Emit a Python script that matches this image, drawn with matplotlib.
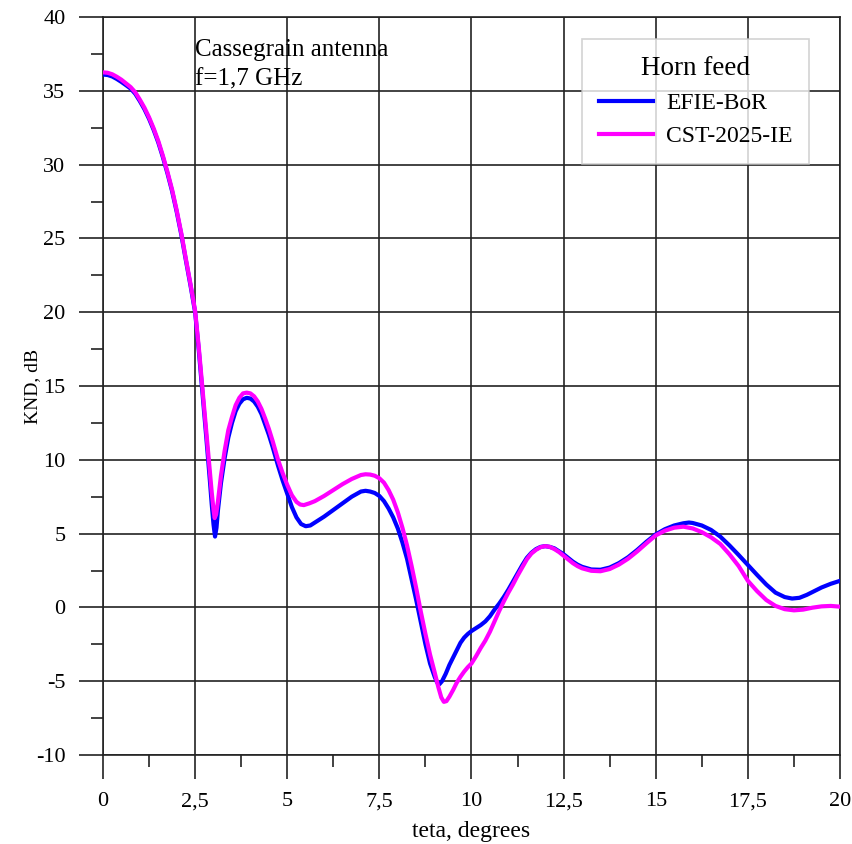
import numpy as np
import matplotlib.pyplot as plt
from matplotlib.ticker import MultipleLocator

# directivity pattern
theta_efie = [0, 0.125, 0.25, 0.375, 0.5, 0.625, 0.75, 0.875, 1.0, 1.125, 1.25, 1.375, 1.5,
              1.625, 1.75, 1.875, 2.0, 2.125, 2.25, 2.375, 2.5, 2.6, 2.7, 2.8, 2.9, 2.95, 3.0,
              3.04, 3.08, 3.12, 3.2, 3.3, 3.4, 3.5, 3.6, 3.7, 3.8, 3.9, 4.0, 4.1, 4.2, 4.3,
              4.4, 4.5, 4.6, 4.75, 4.875, 5.0, 5.125, 5.25, 5.375, 5.5, 5.625, 5.75, 5.875,
              6.0, 6.25, 6.5, 6.75, 7.0, 7.125, 7.25, 7.375, 7.5, 7.625, 7.75, 7.875, 8.0,
              8.125, 8.25, 8.375, 8.5, 8.625, 8.75, 8.875, 9.0, 9.07, 9.13, 9.2, 9.3, 9.4,
              9.5, 9.6, 9.7, 9.8, 9.9, 10.0, 10.125, 10.25, 10.375, 10.5, 10.625, 10.75,
              10.875, 11.0, 11.125, 11.25, 11.375, 11.5, 11.625, 11.75, 11.875, 12.0, 12.125,
              12.25, 12.375, 12.5, 12.625, 12.75, 12.875, 13.0, 13.25, 13.5, 13.75, 14.0,
              14.25, 14.5, 14.75, 15.0, 15.25, 15.5, 15.75, 15.9, 16.0, 16.25, 16.5, 16.75,
              17.0, 17.25, 17.5, 17.75, 18.0, 18.25, 18.5, 18.7, 18.9, 19.1, 19.3, 19.5,
              19.75, 20.0]
knd_efie = [36.1, 36.07, 35.97, 35.8, 35.6, 35.38, 35.15, 34.8, 34.3, 33.75, 33.1, 32.35, 31.5,
            30.5, 29.4, 28.2, 26.8, 25.25, 23.5, 21.8, 20.0, 17.4, 14.5, 11.6, 8.6, 7.0, 5.6,
            4.8, 5.4, 6.6, 8.4, 10.1, 11.5, 12.5, 13.3, 13.8, 14.1, 14.2, 14.15, 13.95, 13.6, 13.1,
            12.4, 11.7, 10.9, 9.6, 8.6, 7.7, 6.8, 6.1, 5.65, 5.5, 5.55, 5.75, 5.95,
            6.15, 6.6, 7.05, 7.5, 7.85, 7.9, 7.85, 7.75, 7.55, 7.2, 6.7, 6.1, 5.35,
            4.4, 3.3, 1.9, 0.5, -1.0, -2.5, -3.8, -4.7, -5.1, -5.2, -5.0, -4.5, -3.9,
            -3.4, -2.9, -2.4, -2.05, -1.8, -1.6, -1.4, -1.2, -0.95, -0.6, -0.15, 0.25,
            0.7, 1.2, 1.75, 2.3, 2.85, 3.35, 3.7, 3.95, 4.1, 4.15, 4.1,
            4.0, 3.8, 3.6, 3.35, 3.1, 2.9, 2.75, 2.57, 2.55, 2.7, 3.0,
            3.4, 3.9, 4.45, 4.95, 5.3, 5.55, 5.7, 5.75, 5.72, 5.55, 5.25, 4.8,
            4.2, 3.55, 2.87, 2.2, 1.55, 1.0, 0.7, 0.6, 0.65, 0.85, 1.1, 1.35,
            1.6, 1.8]

theta_cst = [0, 0.125, 0.25, 0.375, 0.5, 0.625, 0.75, 0.875, 1.0, 1.125, 1.25, 1.375, 1.5,
             1.625, 1.75, 1.875, 2.0, 2.125, 2.25, 2.375, 2.5, 2.6, 2.7, 2.8, 2.9, 2.95, 3.0,
             3.03, 3.07, 3.12, 3.2, 3.3, 3.4, 3.5, 3.6, 3.7, 3.8, 3.9, 4.0, 4.1, 4.2, 4.3,
             4.4, 4.5, 4.6, 4.75, 4.875, 5.0, 5.125, 5.25, 5.35, 5.45, 5.6, 5.75, 6.0,
             6.25, 6.5, 6.75, 7.0, 7.125, 7.25, 7.375, 7.5, 7.625, 7.75, 7.875, 8.0,
             8.125, 8.25, 8.375, 8.5, 8.625, 8.75, 8.875, 9.0, 9.1, 9.18, 9.25, 9.32, 9.4,
             9.5, 9.6, 9.7, 9.8, 9.9, 10.0, 10.125, 10.25, 10.375, 10.5, 10.625, 10.75,
             10.875, 11.0, 11.125, 11.25, 11.375, 11.5, 11.625, 11.75, 11.875, 12.0, 12.125,
             12.25, 12.375, 12.5, 12.625, 12.75, 12.875, 13.0, 13.25, 13.5, 13.75, 14.0,
             14.25, 14.5, 14.75, 15.0, 15.25, 15.5, 15.75, 16.0, 16.25, 16.5, 16.75,
             17.0, 17.25, 17.5, 17.75, 18.0, 18.25, 18.5, 18.75, 19.0, 19.25, 19.5,
             19.75, 20.0]
knd_cst = [36.25, 36.22, 36.12, 35.95, 35.75, 35.5, 35.25, 34.9, 34.4, 33.85, 33.2, 32.45, 31.6,
           30.6, 29.5, 28.3, 26.9, 25.35, 23.6, 21.9, 20.1, 17.6, 14.8, 12.0, 9.2, 7.8, 6.6,
           6.05, 6.3, 7.2, 8.9, 10.6, 12.0, 12.9, 13.7, 14.2, 14.5, 14.55, 14.5, 14.3, 13.95, 13.45,
           12.8, 12.1, 11.3, 10.0, 9.1, 8.3, 7.6, 7.15, 6.97, 6.93, 7.05, 7.2, 7.55,
           7.95, 8.35, 8.7, 8.97, 9.02, 9.0, 8.92, 8.75, 8.45, 7.95, 7.3, 6.45,
           5.4, 4.2, 2.8, 1.3, -0.3, -1.8, -3.2, -4.4, -5.4, -6.1, -6.4, -6.35, -6.05,
           -5.6, -5.1, -4.7, -4.35, -4.05, -3.8, -3.3, -2.75, -2.25, -1.65, -0.95, -0.25,
           0.4, 1.0, 1.55, 2.15, 2.7, 3.25, 3.65, 3.9, 4.08, 4.15, 4.1,
           3.95, 3.75, 3.5, 3.25, 3.0, 2.8, 2.65, 2.48, 2.45, 2.6, 2.9,
           3.3, 3.8, 4.35, 4.88, 5.2, 5.4, 5.47, 5.35, 5.1, 4.75, 4.3,
           3.6, 2.8, 1.8, 1.1, 0.5, 0.1, -0.12, -0.2, -0.15, -0.02, 0.07,
           0.1, 0.05]

x_ticks = [0, 2.5, 5, 7.5, 10, 12.5, 15, 17.5, 20]
y_ticks = [-10, -5, 0, 5, 10, 15, 20, 25, 30, 35, 40]

plt.rcParams['font.family'] = ['Liberation Serif', 'DejaVu Serif']

fig = plt.figure(figsize=(8.53, 8.44), dpi=100)
ax = fig.add_axes([103 / 853, 1 - 755 / 844, 737 / 853, 738 / 844])

ax.plot(theta_efie, knd_efie, color='#0000ff', lw=3, label='EFIE-BoR', zorder=3)
ax.plot(theta_cst, knd_cst, color='#ff00ff', lw=3, label='CST-2025-IE', zorder=4)

ax.set_xlim(0, 20)
ax.set_ylim(-10, 40)
ax.set_xticks(x_ticks)
ax.set_xticklabels([('%g' % v).replace('.', ',') for v in x_ticks])
ax.set_yticks(y_ticks)
ax.set_yticklabels(['%d' % v for v in y_ticks])
ax.xaxis.set_minor_locator(MultipleLocator(1.25))
ax.yaxis.set_minor_locator(MultipleLocator(2.5))

gc = '#222222'
ax.grid(True, which='major', color=gc, lw=1.2)
ax.tick_params(which='major', direction='out', length=17, width=1.2, color=gc,
               labelsize=16, pad=10)
ax.tick_params(which='minor', direction='out', length=8.5, width=1.2, color=gc)
for s in ax.spines.values():
    s.set_color(gc)
    s.set_linewidth(1.2)

ax.set_xlabel('teta, degrees', fontsize=17, labelpad=7)
ax.set_ylabel('KND, dB', fontsize=14, labelpad=-4)

ax.text(2.5, 38.5, 'Cassegrain antenna\nf=1,7 GHz', fontsize=18, va='top', ha='left',
        linespacing=1.45)

leg = ax.legend(title='Horn feed', loc='upper right', bbox_to_anchor=(0.958, 0.970),
                borderaxespad=0, fontsize=17, title_fontsize=19.5, fancybox=False,
                edgecolor='#c8c8c8', handlelength=2.3, handletextpad=0.55,
                labelspacing=0.5, borderpad=0.7)
leg.get_frame().set_linewidth(1.2)

fig.savefig('out.png', dpi=100)
